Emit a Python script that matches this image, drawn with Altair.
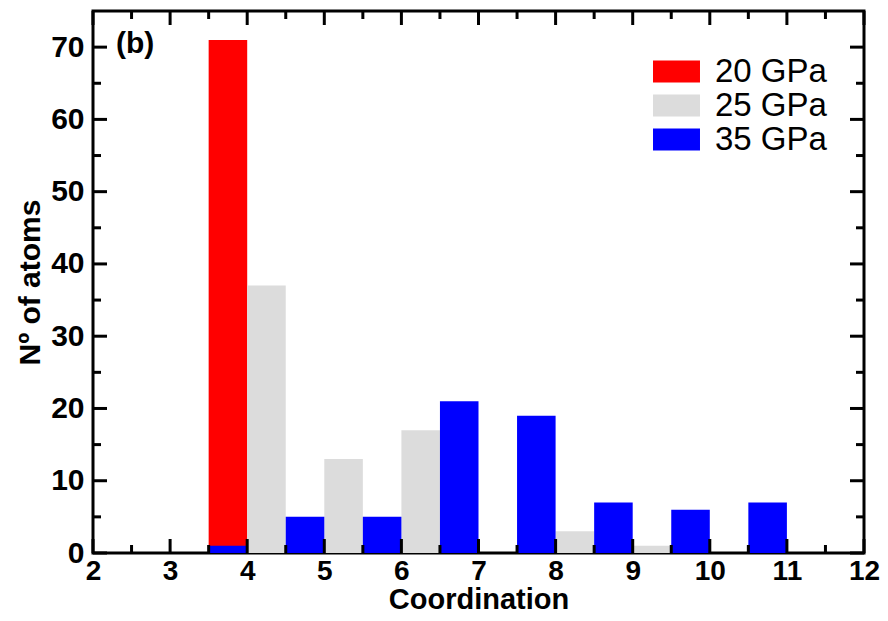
import altair as alt
import pandas as pd

series = ["20 GPa", "25 GPa", "35 GPa"]
colors = ["#ff0000", "#dcdcdc", "#0000ff"]

red_start = [3.5]
red_count = [71]
grey_start = [4.0, 5.0, 6.0, 8.0, 9.0]
grey_count = [37, 13, 17, 3, 1]
blue_start = [3.5, 4.5, 5.5, 6.5, 7.5, 8.5, 9.5, 10.5]
blue_count = [1, 5, 5, 21, 19, 7, 6, 7]
bin_width = 0.5

x_major = [2, 3, 4, 5, 6, 7, 8, 9, 10, 11, 12]
x_minor = [2.5, 3.5, 4.5, 5.5, 6.5, 7.5, 8.5, 9.5, 10.5, 11.5]
y_major = [0, 10, 20, 30, 40, 50, 60, 70]
y_minor = [5, 15, 25, 35, 45, 55, 65]

W, H = 771, 542
MAJ, MIN = 14, 8

rows = []
for name, starts, counts in [(series[0], red_start, red_count),
                             (series[1], grey_start, grey_count),
                             (series[2], blue_start, blue_count)]:
    for s, c in zip(starts, counts):
        rows.append({"series": name, "x0": s, "x1": s + bin_width, "count": c})
bars_df = pd.DataFrame(rows)
bars_df["order"] = bars_df["series"].map({s: i for i, s in enumerate(series)})

xscale = alt.Scale(domain=[2, 12], nice=False, zero=False)
yscale = alt.Scale(domain=[0, 75], nice=False)

FONT = "Liberation Sans"

xaxis = alt.Axis(values=x_major, format="d", ticks=False, domain=False, grid=False,
                 labelFontSize=28, labelFontWeight="bold", labelFont=FONT,
                 labelColor="black", labelPadding=4, labelFlush=False,
                 titleFontSize=29, titleFontWeight="bold", titleFont=FONT,
                 titleColor="black", titlePadding=0)
yaxis = alt.Axis(values=y_major, ticks=False, domain=False, grid=False,
                 labelFontSize=30, labelFontWeight="bold", labelFont=FONT,
                 labelColor="black", labelPadding=9, labelFlush=False,
                 titleFontSize=30, titleFontWeight="bold", titleFont=FONT,
                 titleColor="black", titlePadding=5)
XT = "Coordination"
YT = "Nº of atoms"

bars = alt.Chart(bars_df).mark_rect(stroke=None).encode(
    x=alt.X("x0:Q", scale=xscale, title=XT, axis=xaxis),
    x2="x1:Q",
    y=alt.Y("count:Q", scale=yscale, title=YT, axis=yaxis),
    y2=alt.datum(0),
    color=alt.Color("series:N", scale=alt.Scale(domain=series, range=colors),
                    legend=alt.Legend(title=None, orient="none", legendX=567, legendY=44,
                                      symbolType="M-2,-0.94H2V0.94H-2Z", symbolSize=552,
                                      symbolStrokeWidth=0, labelFontSize=33, labelFont=FONT,
                                      labelColor="black", labelOffset=22, rowPadding=0,
                                      padding=0)),
    order="order:Q",
)


def tick_layer(vals, axis, side, length):
    df = pd.DataFrame({"v": vals})
    base = alt.Chart(df).mark_rule(color="black", strokeWidth=3)
    if axis == "x":
        if side == "bottom":
            yv, y2v = H, H - length
        else:
            yv, y2v = 0, length
        return base.encode(x=alt.X("v:Q", scale=xscale, title=XT, axis=xaxis),
                           y=alt.value(yv), y2=alt.value(y2v))
    else:
        if side == "left":
            xv, x2v = 0, length
        else:
            xv, x2v = W, W - length
        return base.encode(y=alt.Y("v:Q", scale=yscale, title=YT, axis=yaxis),
                           x=alt.value(xv), x2=alt.value(x2v))


ticks = []
for side in ["bottom", "top"]:
    ticks.append(tick_layer(x_major, "x", side, MAJ))
    ticks.append(tick_layer(x_minor, "x", side, MIN))
for side in ["left", "right"]:
    ticks.append(tick_layer(y_major, "y", side, MAJ))
    ticks.append(tick_layer(y_minor, "y", side, MIN))

label = alt.Chart(pd.DataFrame({"t": ["(b)"]})).mark_text(
    align="left", baseline="middle", fontSize=30, fontWeight="bold", font=FONT, color="black"
).encode(text="t:N", x=alt.value(23), y=alt.value(33))

chart = alt.layer(bars, *ticks, label).properties(
    width=W, height=H,
    background="white",
    autosize=alt.AutoSizeParams(type="none"),
    padding={"left": 85, "top": 3, "right": 16, "bottom": 60},
).configure_view(stroke="black", strokeWidth=3)

chart.save("out.html", embed_options={"renderer": "svg", "actions": False})
